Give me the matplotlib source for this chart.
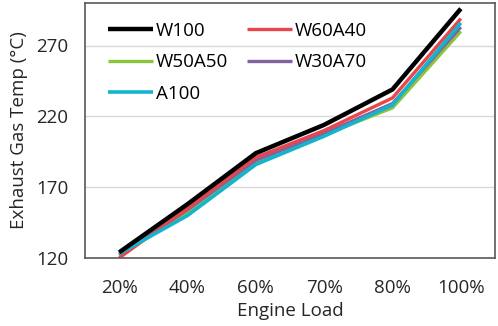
import numpy as np
import matplotlib.pyplot as plt

plt.rcParams['font.family'] = ['Open Sans', 'DejaVu Sans']

loads = ['20%', '40%', '60%', '70%', '80%', '100%']
w100 = [124, 158, 194, 214, 239, 296]
w60a40 = [120, 155, 191, 210, 233, 289]
w50a50 = [122, 152, 187, 207, 226, 280]
w30a70 = [122, 154, 189, 208, 229, 283]
a100 = [123, 150, 186, 206, 228, 286]

series = [
    ('W100', w100, 'black', 3.2),
    ('W50A50', w50a50, '#8cc43c', 2.4),
    ('A100', a100, '#14b4cc', 2.6),
    ('W60A40', w60a40, '#e8464a', 2.4),
    ('W30A70', w30a70, '#8064a2', 2.4),
]

fig = plt.figure(figsize=(4.98, 3.26), dpi=100)
ax = fig.add_axes([85 / 498, 1 - 258 / 326, 410 / 498, 255 / 326])

x = np.arange(len(loads))
draw = {s[0]: s for s in series}
for name in ['W50A50', 'W30A70', 'W60A40', 'A100', 'W100']:
    _, vals, col, lw = draw[name]
    ax.plot(x, vals, color=col, lw=lw, label=name, solid_capstyle='butt')

fs = 13.5
ax.set_xlim(-0.5, len(loads) - 0.5)
ax.set_ylim(120, 300)
ax.set_yticks([120, 170, 220, 270])
ax.set_xticks(x)
ax.set_xticklabels(loads)
ax.tick_params(length=0, labelsize=fs, colors='#262626')
ax.tick_params(axis='x', pad=15)
ax.tick_params(axis='y', pad=12)
ax.grid(axis='y', color='#d9d9d9', lw=1)
ax.set_axisbelow(True)
for sp in ax.spines.values():
    sp.set_color('#595959')
    sp.set_linewidth(1.2)

ax.set_xlabel('Engine Load', fontsize=fs, color='#262626', labelpad=4)
ax.set_ylabel('Exhaust Gas Temp (°C)', fontsize=fs, color='#262626', labelpad=6)

handles, labels = ax.get_legend_handles_labels()
hmap = dict(zip(labels, handles))
leg_order = ['W100', 'W50A50', 'A100', 'W60A40', 'W30A70']
ax.legend([hmap[n] for n in leg_order], leg_order, ncol=2, loc='upper left',
          frameon=False, fontsize=fs, handlelength=2.4, handletextpad=0.15,
          columnspacing=1.0, labelspacing=0.72, borderaxespad=0.6,
          bbox_to_anchor=(0.01, 1.0))

fig.savefig('out.png', dpi=100)
